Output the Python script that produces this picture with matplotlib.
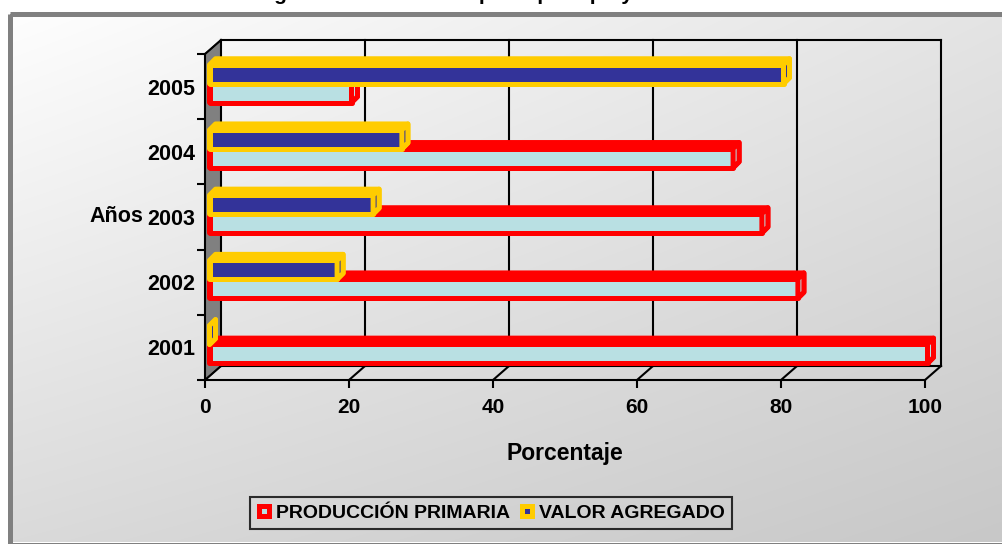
import numpy as np
import matplotlib
matplotlib.use('Agg')
import matplotlib.pyplot as plt
from matplotlib.patches import Polygon, Rectangle
from matplotlib.lines import Line2D
from matplotlib.transforms import IdentityTransform

plt.rcParams['font.family'] = ['Liberation Sans', 'DejaVu Sans']
plt.rcParams['font.weight'] = 'bold'

years = ['2001', '2002', '2003', '2004', '2005']
produccion_primaria = [100, 82, 77, 73, 20]
valor_agregado = [0, 18, 23, 27, 80]
x_ticks = [0, 20, 40, 60, 80, 100]
series_names = ['PRODUCCIÓN PRIMARIA', 'VALOR AGREGADO']

RED, CYAN = '#ff0000', '#b9e0e3'
YELLOW, NAVY = '#ffcc00', '#333399'

fig = plt.figure(figsize=(10.02, 5.44), dpi=100)

# panel background: diagonal grey gradient with a grey frame
bg = fig.add_axes([0, 0, 1, 1])
bg.set_xlim(0, 1002)
bg.set_ylim(544, 0)
bg.axis('off')
u = np.linspace(0, 1, 400)[None, :]
v = np.linspace(0, 1, 220)[:, None]
shade = (254 - 26 * u - 36 * v + 8 * u * v) / 255.0
bg.imshow(np.dstack([shade] * 3), extent=(10.5, 1002, 542, 13.5),
          aspect='auto', interpolation='bilinear', zorder=0)
bg.add_patch(Rectangle((10.5, 13.5), 1000, 531, fill=False,
                       ec='#808080', lw=3.6, zorder=1))

# title sits above the visible area, only the descenders show
fig.text(0.455, 1 + 0.5 / 544, 'Integración del sector: aporte por tipo y año',
         ha='center', va='baseline', fontsize=15, fontweight='bold')

ax = fig.add_axes([205 / 1002, (544 - 380) / 544, 720 / 1002, 326 / 544])
ax.set_xlim(0, 100)
ax.set_ylim(-0.5, 4.5)
ax.patch.set_visible(False)
for s in ('top', 'right'):
    ax.spines[s].set_visible(False)
for s in ('left', 'bottom'):
    ax.spines[s].set_linewidth(1.5)

ax.set_xticks(x_ticks)
ax.set_xticklabels([str(t) for t in x_ticks])
ax.tick_params(axis='x', length=6, width=1.5, pad=7, labelsize=15)
ax.set_yticks(np.arange(-0.5, 5, 1))
ax.set_yticklabels([])
ax.set_yticks(range(len(years)), minor=True)
ax.set_yticklabels(years, minor=True)
ax.tick_params(axis='y', which='major', length=6, width=1.5)
ax.tick_params(axis='y', which='minor', length=0, pad=7, labelsize=15.5)
for lbl in ax.get_xticklabels() + ax.get_yticklabels(minor=True):
    lbl.set_fontweight('bold')

ax.set_xlabel('Porcentaje', fontsize=16.5, fontweight='bold', labelpad=18)
ax.set_ylabel('Años', rotation=0, fontsize=15.5, fontweight='bold',
              ha='right', va='center')
ax.yaxis.set_label_coords(-0.085, 0.5)

WALL = (16, 14)   # depth of the chart box, pixels
BAR_D = 6         # depth of each bar, pixels
LW = 3.6          # bar outline width, points


def px(x, y, dx=0, dy=0):
    p = ax.transData.transform((x, y))
    return (p[0] + dx, p[1] + dy)


def seg(p0, p1, lw=1.5, color='black', z=2):
    ax.add_artist(Line2D([p0[0], p1[0]], [p0[1], p1[1]], color=color, lw=lw,
                         transform=IdentityTransform(), clip_on=False,
                         zorder=z, solid_capstyle='projecting'))


def poly(pts, fc, ec, lw, z):
    ax.add_artist(Polygon(pts, closed=True, fc=fc, ec=ec, lw=lw,
                          joinstyle='round', transform=IdentityTransform(),
                          clip_on=False, zorder=z))


y_lo, y_hi = ax.get_ylim()

# left side wall
poly([px(0, y_lo), px(0, y_hi), px(0, y_hi, *WALL), px(0, y_lo, *WALL)],
     '#808080', 'black', 1.0, 1.5)

# back wall grid and floor lines
for t in x_ticks:
    seg(px(t, y_lo, *WALL), px(t, y_hi, *WALL))
    seg(px(t, y_lo), px(t, y_lo, *WALL))
seg(px(0, y_hi, *WALL), px(100, y_hi, *WALL))
seg(px(0, y_lo, *WALL), px(100, y_lo, *WALL))
seg(px(0, y_hi), px(0, y_hi, *WALL))


def bar3d(value, y0, y1, outer, inner, z):
    xl = px(0, y0)[0] + 4.5
    xr = max(px(value, y0)[0] + 2.5, xl)
    yb = px(0, y0)[1]
    yt = px(0, y1)[1]
    d = BAR_D
    poly([(xl, yb), (xl, yt), (xl + d, yt + d), (xr + d, yt + d),
          (xr + d, yb + d), (xr, yb)], outer, outer, LW, z)
    poly([(xl, yb), (xl, yt), (xr, yt), (xr, yb)], inner, outer, LW, z + 0.1)
    poly([(xr, yb), (xr, yt), (xr + d, yt + d), (xr + d, yb + d)],
         inner, outer, LW, z + 0.2)


for i in range(len(years)):
    bar3d(produccion_primaria[i], i - 0.245, i + 0.05, RED, CYAN, 3)
    bar3d(valor_agregado[i], i + 0.045, i + 0.335, YELLOW, NAVY, 4)

handles = [
    Line2D([], [], ls='none', marker='s', ms=7.9, mfc=CYAN, mec=RED, mew=3.6),
    Line2D([], [], ls='none', marker='s', ms=7.9, mfc=NAVY, mec=YELLOW, mew=3.6),
]
leg = fig.legend(handles, series_names, loc='center',
                 bbox_to_anchor=(491 / 1002, 1 - 513 / 544), ncol=2,
                 frameon=True, fancybox=False, edgecolor='black',
                 facecolor='none', prop=dict(weight='bold', size=14),
                 handlelength=0.7, handletextpad=0.3, columnspacing=0.5,
                 borderpad=0.35)
leg.get_frame().set_linewidth(1.5)

fig.savefig('out.png', dpi=100)
